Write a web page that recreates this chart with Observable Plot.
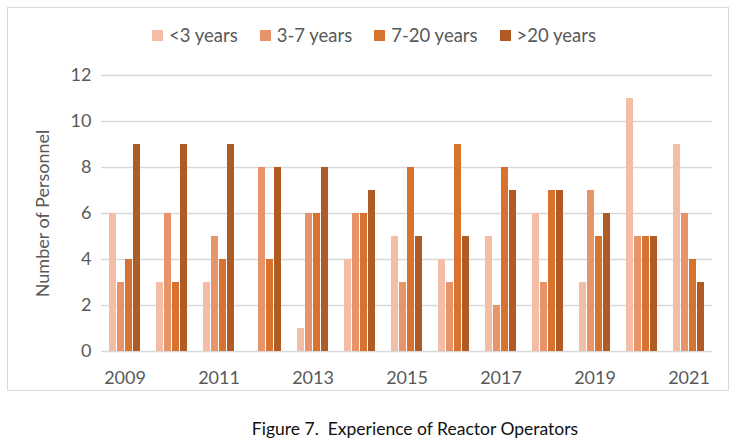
<!DOCTYPE html>
<html>
<head>
<meta charset="utf-8">
<script src="https://cdn.jsdelivr.net/npm/d3@7"></script>
<script src="https://cdn.jsdelivr.net/npm/@observablehq/plot@0.6"></script>
<style>
  body { margin: 0; width: 740px; height: 446px; position: relative; background: #fff; font-family: Lato, "Open Sans", sans-serif; overflow: hidden; }
  #box { position: absolute; left: 7px; top: 7px; width: 722px; height: 384px; border: 1px solid #d9d9d9; box-sizing: border-box; }
  #legend { position: absolute; left: 0; top: 24px; width: 748px; display: flex; justify-content: center; gap: 22px; font-size: 18.5px; color: #595959; }
  #legend .item { display: flex; align-items: center; gap: 6px; }
  #legend .sw { width: 11px; height: 11px; display: inline-block; }
  #chart { position: absolute; left: 0; top: 55px; }
  #caption { position: absolute; left: 0; top: 418px; width: 830px; text-align: center; font-size: 17.5px; color: #111; }
</style>
</head>
<body>
<div id="box"></div>
<div id="legend"></div>
<div id="chart"></div>
<div id="caption">Figure 7.&nbsp; Experience of Reactor Operators</div>
<script>
const years = [2009, 2010, 2011, 2012, 2013, 2014, 2015, 2016, 2017, 2018, 2019, 2020, 2021];
const series = ["<3 years", "3-7 years", "7-20 years", ">20 years"];
const lessThan3 = [6, 3, 3, 0, 1, 4, 5, 4, 5, 6, 3, 11, 9];
const from3to7 = [3, 6, 5, 8, 6, 6, 3, 3, 2, 3, 7, 5, 6];
const from7to20 = [4, 3, 4, 4, 6, 6, 8, 9, 8, 7, 5, 5, 4];
const moreThan20 = [9, 9, 9, 8, 8, 7, 5, 5, 7, 7, 6, 5, 3];
const yTicks = [0, 2, 4, 6, 8, 10, 12];
const colors = ["#F3BEA5", "#E8946B", "#D8732F", "#B15B24"];

const seriesValues = [lessThan3, from3to7, from7to20, moreThan20];
const data = [];
years.forEach((yr, i) => {
  series.forEach((s, j) => data.push({year: yr, series: s, value: seriesValues[j][i]}));
});

const legend = document.getElementById("legend");
series.forEach((s, j) => {
  const it = document.createElement("div");
  it.className = "item";
  const sw = document.createElement("span");
  sw.className = "sw";
  sw.style.background = colors[j];
  const t = document.createElement("span");
  t.textContent = s;
  it.append(sw, t);
  legend.append(it);
});

const chart = Plot.plot({
  width: 740,
  height: 337,
  marginTop: 20,
  marginBottom: 41,
  marginLeft: 100,
  marginRight: 28,
  style: {fontFamily: "Lato, 'Open Sans', sans-serif", fontSize: "18px", color: "#595959", background: "transparent"},
  fx: {domain: years, padding: 0, label: null},
  x: {domain: series, paddingInner: 0.18, paddingOuter: 0.85, axis: null},
  y: {domain: [0, 12]},
  color: {domain: series, range: colors},
  marks: [
    Plot.gridY(yTicks, {stroke: "#d9d9d9", strokeOpacity: 1, strokeWidth: 1.3}),
    Plot.axisY(yTicks, {tickSize: 0, tickPadding: 10, label: "Number of Personnel", labelAnchor: "center", labelArrow: "none", labelOffset: 65, fill: "#595959"}),
    Plot.axisFx({anchor: "bottom", tickSize: 0, tickPadding: 20, label: null, tickFormat: d => (d % 2 === 1 ? String(d) : ""), fill: "#595959"}),
    Plot.barY(data, {fx: "year", x: "series", y: "value", fill: "series"})
  ]
});
document.getElementById("chart").append(chart);
</script>
</body>
</html>
